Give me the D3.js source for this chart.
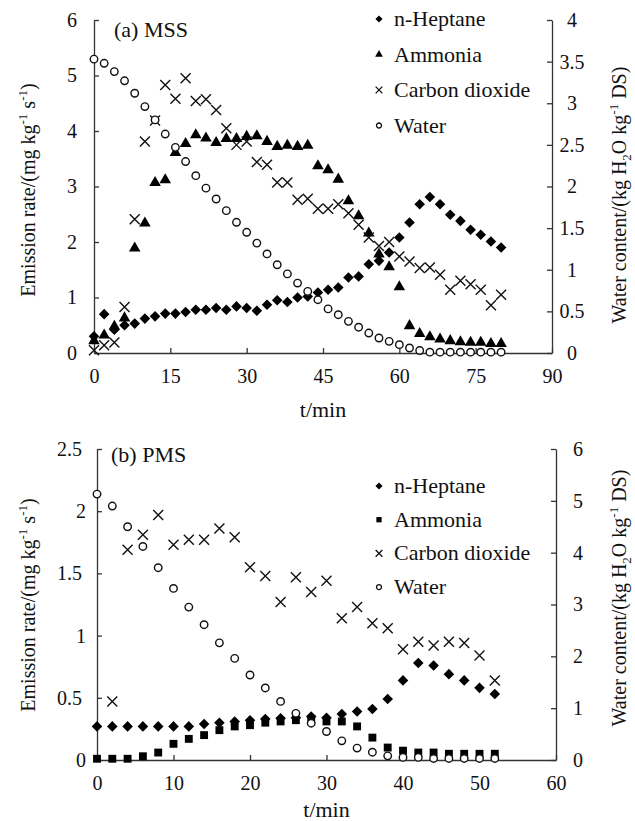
<!DOCTYPE html>
<html>
<head>
<meta charset="utf-8">
<script src="https://cdn.jsdelivr.net/npm/d3@7"></script>
<style>
  body { margin: 0; background: #fff; }
  svg text { font-family: "Liberation Serif", "Times New Roman", serif; fill: #111; }
</style>
</head>
<body>
<div id="chartArea"></div>
<script>
// ---- data, panel (a) MSS ----
const timeA = [0, 2, 4, 6, 8, 10, 12, 14, 16, 18, 20, 22, 24, 26, 28, 30, 32, 34, 36, 38,
  40, 42, 44, 46, 48, 50, 52, 54, 56, 58, 60, 62, 64, 66, 68, 70, 72, 74, 76, 78, 80];
const heptaneA = [0.30, 0.70, 0.42, 0.50, 0.53, 0.62, 0.66, 0.71, 0.71, 0.74, 0.78, 0.78, 0.81, 0.78,
  0.84, 0.81, 0.76, 0.87, 0.95, 0.92, 1.00, 1.02, 1.09, 1.14, 1.18, 1.36, 1.38, 1.60, 1.66, 1.81,
  2.08, 2.35, 2.68, 2.81, 2.68, 2.49, 2.38, 2.22, 2.13, 2.01, 1.90];
const ammoniaA = [0.22, 0.32, 0.48, 0.63, 1.89, 2.34, 3.07, 3.12, 3.61, 3.77, 3.93, 3.87, 3.79, 3.86,
  3.86, 3.90, 3.91, 3.81, 3.72, 3.74, 3.72, 3.74, 3.37, 3.30, 3.13, 2.74, 2.47, 2.16, 1.78, 1.55,
  1.19, 0.49, 0.35, 0.29, 0.25, 0.22, 0.20, 0.19, 0.19, 0.17, 0.17];
const co2A = [0.05, 0.14, 0.19, 0.83, 2.41, 3.81, 4.19, 4.83, 4.58, 4.95, 4.54, 4.57, 4.38, 4.05,
  3.75, 3.81, 3.44, 3.39, 3.07, 3.07, 2.76, 2.78, 2.60, 2.60, 2.68, 2.52, 2.31, 2.08, 1.93, 2.00,
  1.74, 1.65, 1.53, 1.54, 1.41, 1.14, 1.30, 1.24, 1.14, 0.86, 1.05];
const waterA = [3.53, 3.48, 3.38, 3.27, 3.12, 2.96, 2.80, 2.63, 2.47, 2.30, 2.13, 1.98, 1.85, 1.71,
  1.57, 1.45, 1.32, 1.19, 1.06, 0.95, 0.84, 0.74, 0.64, 0.53, 0.46, 0.38, 0.31, 0.24, 0.18, 0.14,
  0.10, 0.06, 0.03, 0.01, 0.01, 0.01, 0.01, 0.01, 0.01, 0.01, 0.01];
const xTicksA = [0, 15, 30, 45, 60, 75, 90];
const yTicksA = [0, 1, 2, 3, 4, 5, 6];
const y2TicksA = [0, 0.5, 1, 1.5, 2, 2.5, 3, 3.5, 4];

// ---- data, panel (b) PMS ----
const timeB = [0, 2, 4, 6, 8, 10, 12, 14, 16, 18, 20, 22, 24, 26, 28, 30, 32, 34, 36, 38,
  40, 42, 44, 46, 48, 50, 52];
const heptaneB = [0.27, 0.27, 0.27, 0.27, 0.27, 0.27, 0.27, 0.29, 0.30, 0.31, 0.32, 0.33, 0.335, 0.34,
  0.35, 0.34, 0.37, 0.39, 0.41, 0.49, 0.64, 0.78, 0.76, 0.69, 0.64, 0.58, 0.53];
const ammoniaB = [0.01, 0.01, 0.01, 0.03, 0.06, 0.13, 0.17, 0.20, 0.24, 0.27, 0.28, 0.30, 0.31, 0.32,
  0.33, 0.31, 0.31, 0.27, 0.18, 0.10, 0.075, 0.06, 0.06, 0.05, 0.05, 0.05, 0.05];
const co2TimeB = [2, 4, 6, 8, 10, 12, 14, 16, 18, 20, 22, 24, 26, 28, 30, 32, 34, 36, 38,
  40, 42, 44, 46, 48, 50, 52];
const co2B = [0.47, 1.69, 1.81, 1.97, 1.73, 1.77, 1.77, 1.86, 1.79, 1.55, 1.48, 1.27, 1.47, 1.35,
  1.44, 1.14, 1.23, 1.10, 1.06, 0.89, 0.95, 0.92, 0.95, 0.94, 0.84, 0.64];
const waterB = [5.13, 4.90, 4.50, 4.12, 3.71, 3.31, 2.95, 2.61, 2.26, 1.96, 1.64, 1.39, 1.13, 0.90,
  0.71, 0.55, 0.37, 0.23, 0.15, 0.08, 0.05, 0.05, 0.03, 0.03, 0.03, 0.03, 0.03];
const xTicksB = [0, 10, 20, 30, 40, 50, 60];
const yTicksB = [0, 0.5, 1, 1.5, 2, 2.5];
const y2TicksB = [0, 1, 2, 3, 4, 5, 6];

const width = 635, height = 821;
const ink = "#333";

// marker shapes
const diamond = { draw(ctx, size) { const r = Math.sqrt(size / 2);
  ctx.moveTo(0, -r); ctx.lineTo(r, 0); ctx.lineTo(0, r); ctx.lineTo(-r, 0); ctx.closePath(); } };
const cross = { draw(ctx, size) { const r = Math.sqrt(size) / 2;
  ctx.moveTo(-r, -r); ctx.lineTo(r, r); ctx.moveTo(r, -r); ctx.lineTo(-r, r); } };

const markers = {
  heptane: (s) => ({ d: d3.symbol(diamond, 56 * s)(), fill: "#000", stroke: "none" }),
  triangle: (s) => ({ d: d3.symbol(d3.symbolTriangle, 58 * s)(), fill: "#000", stroke: "none" }),
  square: (s) => ({ d: d3.symbol(d3.symbolSquare, 62 * s)(), fill: "#000", stroke: "none" }),
  co2: (s) => ({ d: d3.symbol(cross, 100 * s)(), fill: "none", stroke: "#111" }),
  water: (s) => ({ d: d3.symbol(d3.symbolCircle, 44 * s)(), fill: "#fff", stroke: "#111" })
};

const svg = d3.select("#chartArea").append("svg")
  .attr("width", width).attr("height", height)
  .attr("font-family", "'Liberation Serif', 'Times New Roman', serif");

function styleAxis(g) {
  g.attr("font-family", null).attr("font-size", null);
  g.select(".domain").attr("stroke", ink).attr("stroke-width", 1.3);
  g.selectAll(".tick line").attr("stroke", ink).attr("stroke-width", 1.3);
  g.selectAll(".tick text").style("font-size", "20px").attr("fill", "#111");
}

function panel(cfg) {
  const x = d3.scaleLinear().domain(cfg.xDomain).range([cfg.left, cfg.right]);
  const y = d3.scaleLinear().domain(cfg.yDomain).range([cfg.bottom, cfg.top]);
  const y2 = d3.scaleLinear().domain(cfg.y2Domain).range([cfg.bottom, cfg.top]);
  const g = svg.append("g");

  g.append("g").attr("transform", `translate(0,${cfg.bottom})`)
    .call(d3.axisBottom(x).tickValues(cfg.xTicks).tickSizeInner(-5).tickSizeOuter(0).tickPadding(16))
    .call(styleAxis);
  g.append("g").attr("transform", `translate(${cfg.left},0)`)
    .call(d3.axisLeft(y).tickValues(cfg.yTicks).tickFormat(d => String(d))
      .tickSizeInner(-5).tickSizeOuter(0).tickPadding(cfg.leftPad))
    .call(styleAxis)
    .call(a => a.selectAll(".tick text")
      .attr("dx", d => Number.isInteger(d) ? 0 : -cfg.decShift));
  g.append("g").attr("transform", `translate(${cfg.right},0)`)
    .call(d3.axisRight(y2).tickValues(cfg.y2Ticks).tickFormat(d => String(d))
      .tickSizeInner(-5).tickSizeOuter(0))
    .call(styleAxis)
    .call(a => a.selectAll(".tick text").attr("x", cfg.rightCenter).attr("text-anchor", "middle"));

  // series
  cfg.series.forEach(s => {
    const sc = s.axis === 2 ? y2 : y;
    const m = markers[s.marker](1);
    g.append("g").selectAll("path")
      .data(s.values.map((v, i) => [s.time[i], v]))
      .join("path")
      .attr("transform", d => `translate(${x(d[0])},${sc(d[1])})`)
      .attr("d", m.d).attr("fill", m.fill).attr("stroke", m.stroke).attr("stroke-width", 1.4);
  });

  // panel label
  g.append("text").attr("x", cfg.labelX).attr("y", cfg.labelY)
    .style("font-size", "22px").text(cfg.label);

  // legend
  const lg = g.append("g");
  cfg.series.forEach((s, i) => {
    const ly = cfg.legendY + i * cfg.legendStep;
    const m = markers[s.marker](0.45);
    lg.append("path").attr("transform", `translate(${cfg.legendX},${ly})`)
      .attr("d", m.d).attr("fill", m.fill).attr("stroke", m.stroke).attr("stroke-width", 1.3);
    lg.append("text").attr("x", cfg.legendX + 15).attr("y", ly + 7)
      .style("font-size", "22px").text(s.name);
  });

  // x title
  g.append("text").attr("x", (cfg.left + cfg.right) / 2).attr("y", cfg.xTitleY)
    .attr("text-anchor", "middle").style("font-size", "22px").text("t/min");

  // left title
  const lt = g.append("text")
    .attr("transform", `translate(35,${cfg.leftTitleY}) rotate(-90)`)
    .attr("text-anchor", "middle").style("font-size", "20px");
  lt.append("tspan").text("Emission rate/(mg kg");
  lt.append("tspan").attr("dy", -8).style("font-size", "13px").text("-1");
  lt.append("tspan").attr("dy", 8).text(" s");
  lt.append("tspan").attr("dy", -8).style("font-size", "13px").text("-1");
  lt.append("tspan").attr("dy", 8).text(")");

  // right title
  const rt = g.append("text")
    .attr("transform", `translate(626,${cfg.rightTitleY}) rotate(-90)`)
    .attr("text-anchor", "middle").style("font-size", "20px");
  rt.append("tspan").text("Water content/(kg H");
  rt.append("tspan").attr("dy", 5).style("font-size", "13px").text("2");
  rt.append("tspan").attr("dy", -5).text("O kg");
  rt.append("tspan").attr("dy", -8).style("font-size", "13px").text("-1");
  rt.append("tspan").attr("dy", 8).text(" DS)");
}

panel({
  left: 94, right: 552, top: 20, bottom: 353,
  xDomain: [0, 90], yDomain: [0, 6], y2Domain: [0, 4],
  xTicks: xTicksA, yTicks: yTicksA, y2Ticks: y2TicksA,
  leftPad: 17, decShift: 0, rightCenter: 20,
  label: "(a) MSS", labelX: 114, labelY: 37,
  legendX: 379, legendY: 19, legendStep: 35.5,
  xTitleY: 417, leftTitleY: 190, rightTitleY: 195,
  series: [
    { name: "n-Heptane", marker: "heptane", time: timeA, values: heptaneA, axis: 1 },
    { name: "Ammonia", marker: "triangle", time: timeA, values: ammoniaA, axis: 1 },
    { name: "Carbon dioxide", marker: "co2", time: timeA, values: co2A, axis: 1 },
    { name: "Water", marker: "water", time: timeA, values: waterA, axis: 2 }
  ]
});

panel({
  left: 97, right: 556, top: 449, bottom: 760,
  xDomain: [0, 60], yDomain: [0, 2.5], y2Domain: [0, 6],
  xTicks: xTicksB, yTicks: yTicksB, y2Ticks: y2TicksB,
  leftPad: 11, decShift: 4, rightCenter: 22,
  label: "(b) PMS", labelX: 111, labelY: 462,
  legendX: 379, legendY: 486, legendStep: 33.7,
  xTitleY: 817, leftTitleY: 605, rightTitleY: 598,
  series: [
    { name: "n-Heptane", marker: "heptane", time: timeB, values: heptaneB, axis: 1 },
    { name: "Ammonia", marker: "square", time: timeB, values: ammoniaB, axis: 1 },
    { name: "Carbon dioxide", marker: "co2", time: co2TimeB, values: co2B, axis: 1 },
    { name: "Water", marker: "water", time: timeB, values: waterB, axis: 2 }
  ]
});
</script>
</body>
</html>
